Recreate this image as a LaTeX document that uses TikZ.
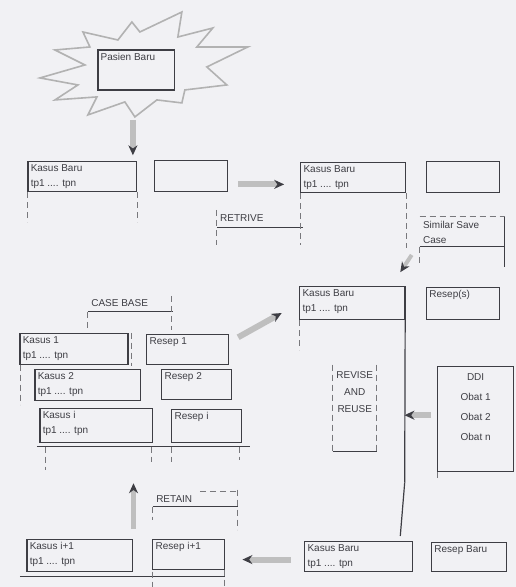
\documentclass[tikz,border=0pt]{standalone}
\usepackage{fontspec}
\setmainfont{Liberation Sans}
\usetikzlibrary{arrows.meta, fit, positioning}
\definecolor{paper}{RGB}{241,241,244}
\definecolor{ink}{RGB}{62,62,68}

\begin{document}
\begin{tikzpicture}[x=0.5pt, y=-0.5pt, >=Stealth,
    box/.style={draw=ink, line width=0.6pt, inner sep=0pt, fit={#1}},
    txt/.style={anchor=north west, inner sep=1.5pt, align=left, text=ink, font=\fontsize{5}{7.5}\selectfont},
    ctxt/.style={txt, anchor=north, align=center},
    ext/.style={draw=ink!70, line width=0.45pt, densely dashed},
    rule/.style={draw=ink, line width=0.6pt},
    burst/.style={draw=gray!60, line width=0.8pt, line join=miter},
    fat/.style={line width=3pt, draw=gray!50, -{Stealth[length=5pt, width=4.5pt, color=ink]}}]
    \fill[paper] (0,0) rectangle (516,587);

    % new patient
    \draw[burst] (40,78) -- (85,65) -- (55,50) -- (90,47) -- (83,32) -- (118,40) -- (132,22) -- (140,32)
        -- (182,12) -- (178,37) -- (213,28) -- (197,47) -- (248,47) -- (207,67) -- (227,85) -- (185,90)
        -- (182,103) -- (157,100) -- (135,117) -- (125,102) -- (88,115) -- (97,97) -- (55,100) -- (78,85) -- cycle;
    \node[box={(98,50) (175,90)}] (pasien) {};
    \node[txt] at (pasien.north west) {Pasien Baru};
    \coordinate (burst tip) at (133,120);

    % retrieve
    \node[box={(28,162) (137,192)}] (kb1) {};
    \node[txt] at (kb1.north west) {Kasus Baru\\tp1 .... tpn};
    \node[box={(155,161) (228,192)}] (e1) {};
    \node[box={(301,163) (406,193)}] (kb2) {};
    \node[txt] at (kb2.north west) {Kasus Baru\\tp1 .... tpn};
    \node[box={(427,162) (500,193)}] (e2) {};
    \node[txt] (retrive) at (217,211) {RETRIVE};
    \node[txt] (sim) at (420,218) {Similar Save\\Case};

    \draw[ext] (kb1.south west) -- ++(0,30) (kb1.south east) -- ++(0,30);
    \draw[rule] (217,228) -- (303,228);
    \draw[ext] (217,210) -- (217,245);
    \draw[ext] (kb2.south west) -- ++(0,52) (kb2.south east) -- ++(0,55);
    \draw[ext] (420,217) -- (505,217) (420,247) -- (420,265);
    \draw[rule] (420,247) -- (505,247) (505,217) -- (505,267);

    % case base
    \node[txt] (casebase) at (88,296) {CASE BASE};
    \node[box={(20,334) (128,365)}] (k1) {};
    \node[txt] at (k1.north west) {Kasus 1\\tp1 .... tpn};
    \node[box={(147,335) (229,365)}] (r1) {};
    \node[txt] at (r1.north west) {Resep 1};
    \node[box={(35,370) (141,401)}] (k2) {};
    \node[txt] at (k2.north west) {Kasus 2\\tp1 .... tpn};
    \node[box={(162,370) (232,400)}] (r2) {};
    \node[txt] at (r2.north west) {Resep 2};
    \node[box={(40,409) (153,443)}] (ki) {};
    \node[txt] at (ki.north west) {Kasus i\\tp1 .... tpn};
    \node[box={(172,410) (242,443)}] (rI) {};
    \node[txt] at (rI.north west) {Resep i};

    \draw[rule] (88,312) -- (173,312);
    \draw[ext] (88,312) -- (88,330) (172,296) -- (172,330);
    \draw[ext] (20,365) -- (20,405) (132,333) -- (132,366);
    \draw[rule] (37,447) -- (250,447);
    \draw[ext] (45,447) -- (45,470) (152,447) -- (152,462) (172,447) -- (172,462) (240,447) -- (240,460);

    % reuse
    \node[box={(300,287) (405,320)}] (kb3) {};
    \node[txt] at (kb3.north west) {Kasus Baru\\tp1 .... tpn};
    \node[box={(427,288) (500,320)}] (res) {};
    \node[txt] at (res.north west) {Resep(s)};
    \node[ctxt, font=\fontsize{5}{8.5}\selectfont] (rev) at (355,368) {REVISE\\AND\\REUSE};
    \node[box={(438,367) (514,472)}] (ddi) {};
    \node[ctxt, font=\fontsize{5}{10}\selectfont] at ([yshift=-2pt]ddi.north) {DDI\\Obat 1\\Obat 2\\Obat n};

    \draw[ext] (kb3.south west) -- ++(0,30);
    \coordinate (kb3 foot) at (405,483);
    \draw[rule] (kb3.north east) -- (kb3 foot);
    \draw[ext] (333,365) -- (333,452) (377,365) -- (377,452);
    \draw[rule] (333,452) -- (377,452);
    \draw[ext] (ddi.south west) -- ++(0,8);

    % retain
    \node[txt] (retain) at (153,493) {RETAIN};
    \node[box={(27,540) (133,572)}] (ki1) {};
    \node[txt] at (ki1.north west) {Kasus i+1\\tp1 .... tpn};
    \node[box={(153,540) (225,570)}] (ri1) {};
    \node[txt] at (ri1.north west) {Resep i+1};
    \node[box={(305,542) (413,572)}] (kb4) {};
    \node[txt] at (kb4.north west) {Kasus Baru\\tp1 .... tpn};
    \node[box={(432,543) (507,572)}] (rb) {};
    \node[txt] at (rb.north west) {Resep Baru};

    \draw[rule] (153,507) -- (238,507);
    \draw[ext] (200,492) -- (238,492) (238,490) -- (238,530) (153,507) -- (153,520);
    \draw[rule] (20,577) -- (225,577);
    \draw[ext] (153,572) -- (153,587) (225,570) -- (225,587);

    % arrows
    \draw[fat, shorten >=3pt] (burst tip) -- (kb1.north east -| burst tip);
    \draw[fat, shorten <=5pt, shorten >=8pt] ([yshift=-4pt]e1.east) -- ([yshift=-4pt]e1.east -| kb2.west);
    \draw[fat, line width=2pt] ([shift={(-4pt,-4pt)}]sim.south west) -- ([shift={(-2.5pt,7pt)}]kb3.north east);
    \draw[fat, shorten <=5pt, shorten >=10pt] ([yshift=-4pt]r1.north east) -- (kb3.west);
    \draw[fat, shorten <=3pt, shorten >=14pt] ([yshift=2pt]ddi.west) -- ([yshift=2pt]ddi.west -| rev.east);
    \draw[fat, shorten >=20pt] ([yshift=5pt]ki1.north east) -- (ki1.north east |- ki.south);
    \draw[fat, shorten <=6.5pt, shorten >=8.5pt] ([yshift=-1.5pt]kb4.west) -- ([yshift=-1.5pt]kb4.west -| ri1.east);
    \draw[rule] (kb3 foot) -- ([shift={(-6.5pt,2.5pt)}]kb4.north east);
\end{tikzpicture}
\end{document}
